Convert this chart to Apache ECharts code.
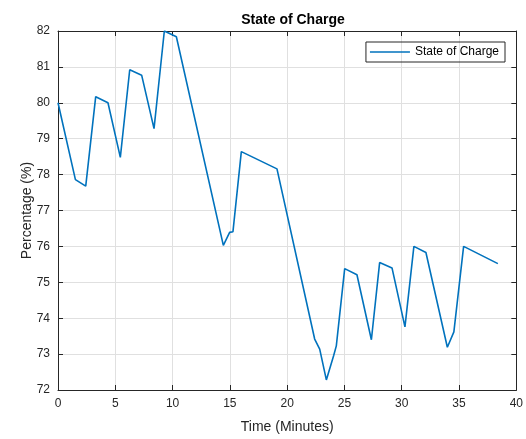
<!DOCTYPE html>
<html><head><meta charset="utf-8">
<script src="https://cdn.jsdelivr.net/npm/echarts@6/dist/echarts.min.js"></script>
<style>html,body{margin:0;padding:0;background:#fff}#c{width:526px;height:439px}</style>
</head><body><div id="c"></div>
<script>
const timeMin = [0, 1.52, 2.42, 3.29, 4.36, 5.44, 6.26, 7.30, 8.38, 9.28, 10.33, 14.43, 14.98, 15.27, 16.0, 19.11, 22.40, 22.84, 23.42, 24.06, 24.29, 25.02, 26.09, 27.35, 28.07, 29.15, 30.28, 31.06, 32.11, 33.98, 34.55, 35.40, 38.39];
const soc = [80.0, 77.86, 77.68, 80.17, 80.0, 78.48, 80.92, 80.77, 79.28, 82.0, 81.84, 76.03, 76.39, 76.41, 78.64, 78.16, 73.42, 73.14, 72.28, 72.96, 73.23, 75.38, 75.21, 73.40, 75.55, 75.40, 73.76, 76.0, 75.83, 73.19, 73.62, 76.0, 75.52];
const xTicks = [0, 5, 10, 15, 20, 25, 30, 35, 40];
const yTicks = [72, 73, 74, 75, 76, 77, 78, 79, 80, 81, 82];
const seriesName = 'State of Charge';

const font = 'Liberation Sans, Arial, Helvetica, sans-serif';
const chart = echarts.init(document.getElementById('c'), null, {renderer: 'canvas'});
const axisLine = () => ({show: true, onZero: false, lineStyle: {color: '#262626', width: 1}});
const tick = () => ({show: true, inside: true, length: 5, lineStyle: {color: '#262626', width: 1}});
const split = () => ({show: true, lineStyle: {color: '#e0e0e0', width: 1}});
chart.setOption({
  animation: false,
  backgroundColor: '#fff',
  title: {text: 'State of Charge', left: 288, top: 8, textAlign: 'center',
    textStyle: {fontFamily: font, fontSize: 14, fontWeight: 'bold', color: '#000'}},
  grid: {left: 58, right: 9, top: 31, bottom: 46},
  legend: {data: [{name: seriesName, icon: 'path://M0,0L40,0L40,1.5L0,1.5Z'}], right: 21, top: 42, orient: 'horizontal',
    borderColor: '#262626', borderWidth: 1, padding: [4, 6, 4, 4],
    itemWidth: 40, itemHeight: 1.5, itemGap: 4,
    itemStyle: {color: '#0072BD'},
    textStyle: {fontFamily: font, fontSize: 12, color: '#000'}},
  xAxis: [{
    type: 'value', min: xTicks[0], max: xTicks[xTicks.length - 1], interval: 5,
    position: 'bottom',
    name: 'Time (Minutes)', nameLocation: 'middle', nameGap: 30,
    nameTextStyle: {fontFamily: font, fontSize: 14, color: '#262626'},
    axisLine: axisLine(), axisTick: tick(), splitLine: split(),
    axisLabel: {fontFamily: font, fontSize: 12, color: '#262626', margin: 8}
  }, {
    type: 'value', min: xTicks[0], max: xTicks[xTicks.length - 1], interval: 5,
    position: 'top', axisLine: axisLine(), axisTick: tick(), splitLine: {show: false}, axisLabel: {show: false}
  }],
  yAxis: [{
    type: 'value', min: yTicks[0], max: yTicks[yTicks.length - 1], interval: 1,
    position: 'left',
    name: 'Percentage (%)', nameLocation: 'middle', nameGap: 24, nameMoveOverlap: false,
    nameTextStyle: {fontFamily: font, fontSize: 14, color: '#262626'},
    axisLine: axisLine(), axisTick: tick(), splitLine: split(),
    axisLabel: {fontFamily: font, fontSize: 12, color: '#262626', margin: 8}
  }, {
    type: 'value', min: yTicks[0], max: yTicks[yTicks.length - 1], interval: 1,
    position: 'right', axisLine: axisLine(), axisTick: tick(), splitLine: {show: false}, axisLabel: {show: false}
  }],
  series: [{
    name: seriesName, type: 'line', symbol: 'none', showSymbol: false,
    xAxisIndex: 0, yAxisIndex: 0,
    lineStyle: {color: '#0072BD', width: 1.6}, itemStyle: {color: '#0072BD'},
    data: timeMin.map((t, i) => [t, soc[i]])
  }]
});
</script></body></html>
